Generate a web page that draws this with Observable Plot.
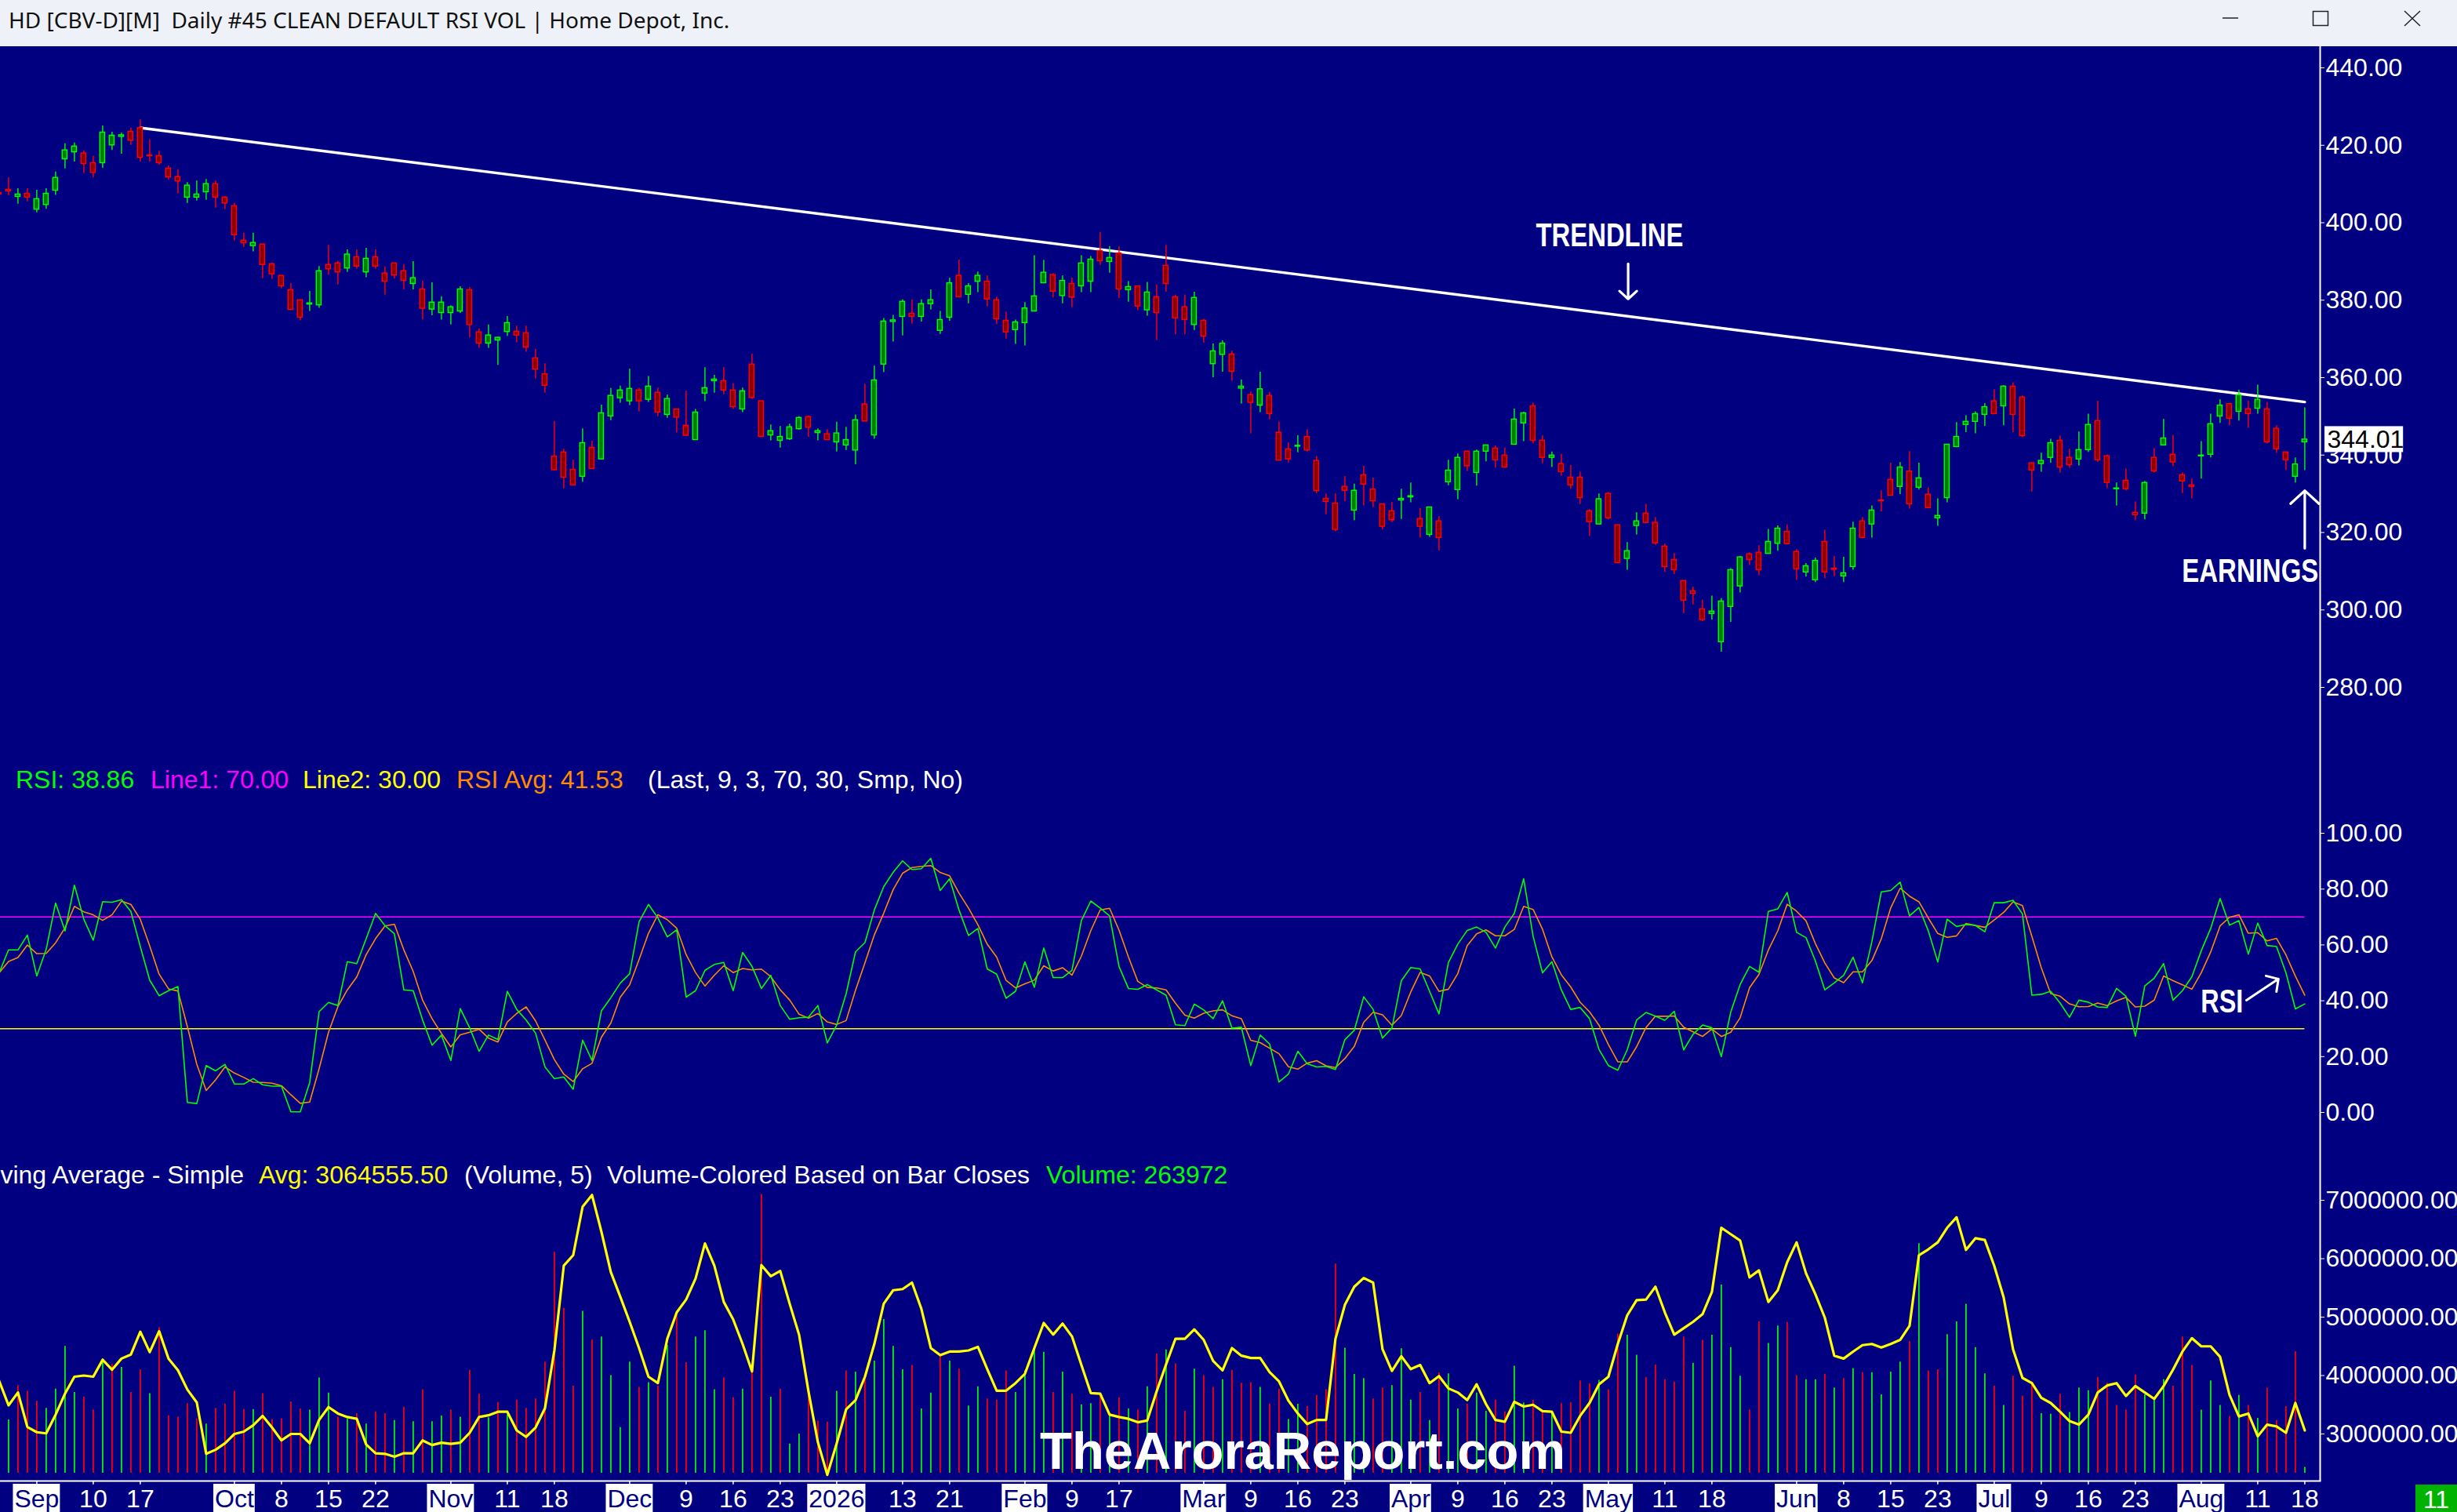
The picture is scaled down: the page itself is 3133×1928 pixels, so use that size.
<!DOCTYPE html>
<html>
<head>
<meta charset="utf-8">
<script src="https://cdn.jsdelivr.net/npm/d3@7"></script>
<script src="https://cdn.jsdelivr.net/npm/@observablehq/plot@0.6"></script>
<style>
  html, body { margin:0; padding:0; background:#000080; }
  #root { position:relative; width:3133px; height:1928px; overflow:hidden; background:#000080; font-family:"Liberation Sans", Arial, sans-serif; }
  #titlebar { position:absolute; left:0; top:0; width:3133px; height:59px; background:#eef2f8; }
  #title { position:absolute; left:11px; top:6px; font-family:"Noto Sans","Open Sans",sans-serif; font-size:28px; line-height:38px; color:#111; white-space:pre; }
  .panel { position:absolute; left:0; }
  .panel svg { display:block; overflow:hidden; }
  .leg { position:absolute; font-size:32px; line-height:36px; white-space:pre; z-index:5; }
  #wm { position:absolute; left:1326px; top:1816px; font-weight:bold; font-size:67px; line-height:67px; color:#fff; white-space:pre; z-index:6; }
  #tf { position:absolute; left:3080px; top:1893px; width:53px; height:35px; background:#00b300; color:#fff; font-size:32px; line-height:38px; text-align:center; z-index:6; }
</style>
</head>
<body>
<div id="root">
  <div id="titlebar">
    <div id="title">HD [CBV-D][M]  Daily #45 CLEAN DEFAULT RSI VOL | Home Depot, Inc.</div>
    <svg style="position:absolute;left:2820px;top:0" width="300" height="59">
      <line x1="14" y1="23" x2="34" y2="23" stroke="#222" stroke-width="1.5"/>
      <rect x="129.5" y="14.5" width="19" height="18" fill="none" stroke="#222" stroke-width="1.5"/>
      <line x1="246" y1="14" x2="266" y2="33" stroke="#222" stroke-width="1.5"/>
      <line x1="266" y1="14" x2="246" y2="33" stroke="#222" stroke-width="1.5"/>
    </svg>
  </div>
  <div id="pricePanel" class="panel" style="top:59px"></div>
  <div id="rsiPanel" class="panel" style="top:1020px"></div>
  <div id="volPanel" class="panel" style="top:1480px"></div>
  <div id="datePanel" class="panel" style="top:1887px"></div>

  <div class="leg" style="top:976px;left:20px;color:#00ff00">RSI: 38.86</div>
  <div class="leg" style="top:976px;left:192px;color:#ff00ff">Line1: 70.00</div>
  <div class="leg" style="top:976px;left:386px;color:#ffff00">Line2: 30.00</div>
  <div class="leg" style="top:976px;left:582px;color:#ff8c00">RSI Avg: 41.53</div>
  <div class="leg" style="top:976px;left:826px;color:#ffffff">(Last, 9, 3, 70, 30, Smp, No)</div>

  <div class="leg" style="top:1480px;left:-44px;color:#ffffff">Moving Average - Simple</div>
  <div class="leg" style="top:1480px;left:330px;color:#ffff00">Avg: 3064555.50</div>
  <div class="leg" style="top:1480px;left:592px;color:#ffffff">(Volume, 5)</div>
  <div class="leg" style="top:1480px;left:774px;color:#ffffff">Volume-Colored Based on Bar Closes</div>
  <div class="leg" style="top:1480px;left:1334px;color:#00ff00">Volume: 263972</div>

  <div id="wm">TheAroraReport.com</div>
  <div id="tf">11</div>
</div>
<script>
// ---------------- DATA (trading-day index of first bar = -4; Sep 2 2025 = 0) ----------------
const FIRST_INDEX = -4;

const open = [
407.7,408.5,406.7,407.5,403.4,404.6,408.3,416.4,418.2,417.9,
415.4,415.4,420.0,422.2,423.5,424.5,417.4,417.2,414.0,411.8,
406.5,406.5,407.9,410.0,406.5,404.3,395.4,394.0,394.4,389.3,
386.3,382.6,380.0,378.9,378.7,389.1,389.5,388.2,391.1,387.2,
391.1,386.9,389.5,387.5,384.2,382.8,377.6,376.7,376.7,377.1,
382.6,371.7,368.8,369.6,371.8,371.9,371.5,365.0,360.9,339.6,
340.7,336.2,334.4,341.9,338.9,350.0,354.7,353.9,356.7,354.3,
356.1,350.4,351.8,347.6,343.9,355.9,359.1,359.1,356.7,351.8,
363.4,353.9,345.1,343.7,344.1,346.7,349.8,345.7,345.4,343.3,
342.5,341.2,353.1,345.1,363.4,374.4,375.7,376.5,375.7,379.0,
372.1,375.5,386.3,381.4,384.8,384.8,380.0,374.7,372.3,374.1,
377.1,384.4,386.5,381.1,384.2,383.6,384.8,392.7,389.9,392.1,
382.6,383.6,377.4,380.8,388.9,380.8,378.2,373.6,374.7,363.5,
365.9,366.0,357.2,355.5,352.8,355.3,345.8,341.5,342.2,344.7,
338.5,328.7,327.5,331.8,325.7,334.8,331.1,327.3,325.5,328.3,
329.1,323.5,319.4,322.9,333.0,331.0,340.9,335.4,340.9,341.7,
339.9,342.7,348.2,352.6,343.7,339.3,337.7,334.2,334.2,325.5,
322.1,330.0,321.9,313.2,321.7,324.9,322.5,316.4,312.9,307.5,
304.8,300.2,299.0,291.7,300.8,306.1,314.4,314.8,314.5,317.1,
320.2,315.0,309.7,307.7,317.6,310.7,308.7,311.1,322.9,322.1,
328.3,333.6,331.8,335.8,331.6,329.8,323.7,328.9,342.1,347.8,
348.6,350.4,353.9,352.6,357.7,354.9,337.9,337.7,339.3,343.7,
339.3,338.9,341.3,348.8,339.7,331.2,333.4,325.1,324.9,339.3,
342.5,340.1,334.8,332.2,339.7,340.1,350.0,353.2,351.2,351.8,
352.0,351.8,346.8,340.7,334.4,343.3];

const high = [
408.2,411.6,408.8,408.8,408.4,408.8,413.1,420.4,420.6,418.6,
417.2,425.0,423.4,423.2,424.4,426.6,421.4,418.5,414.7,413.7,
410.4,410.8,411.2,410.8,406.8,405.0,397.3,397.3,394.4,389.6,
386.3,384.3,380.0,382.3,388.7,394.2,390.1,393.0,393.0,393.4,
393.0,388.6,389.5,389.2,390.0,384.9,384.5,380.9,378.6,383.5,
383.3,372.6,373.6,370.5,375.8,373.3,373.3,367.3,363.6,348.7,
341.5,338.7,346.8,343.6,352.9,357.2,357.8,362.2,357.3,360.3,
357.3,355.5,351.8,356.5,351.8,362.6,360.6,362.6,358.5,357.3,
366.1,353.9,347.8,347.4,348.0,349.9,350.2,346.8,346.6,348.5,
347.2,350.4,358.3,363.0,375.3,376.1,380.1,380.1,380.1,382.7,
377.1,385.7,390.4,384.3,387.3,386.3,380.8,376.9,374.9,379.4,
391.5,390.3,386.9,386.3,385.7,391.5,391.3,397.5,393.8,393.8,
384.8,383.6,384.6,384.0,394.2,381.3,381.3,382.1,375.1,368.7,
369.5,366.9,359.4,356.3,361.4,356.2,348.5,343.2,345.0,346.6,
339.7,330.0,330.0,334.5,332.5,337.1,334.1,327.3,327.8,331.2,
332.8,326.2,326.5,324.1,338.7,340.3,340.9,341.3,342.5,342.4,
341.8,351.9,351.1,353.4,345.0,340.8,340.2,337.3,335.6,325.9,
330.0,330.4,321.9,317.4,325.1,327.3,323.9,317.0,314.6,307.5,
305.9,302.6,303.6,303.0,310.7,313.8,314.8,316.6,320.8,321.7,
321.9,315.6,312.0,313.4,320.6,313.8,313.6,322.7,323.9,326.9,
330.8,337.9,338.1,340.9,337.9,331.6,328.7,342.7,348.4,350.2,
351.2,353.3,356.9,357.9,358.7,355.3,337.9,340.5,344.1,344.9,
341.5,346.0,350.6,353.9,340.1,332.8,336.4,327.9,333.2,341.7,
349.2,345.1,335.4,333.8,343.5,350.6,354.3,353.2,356.7,353.9,
358.1,353.6,347.6,340.7,339.3,352.2];

const low = [
406.8,407.0,404.8,405.4,402.6,403.5,407.1,413.9,415.7,412.7,
411.6,414.1,418.7,417.7,420.0,415.7,415.7,414.9,411.1,407.5,
405.0,405.6,405.8,403.8,403.4,395.3,393.6,392.5,385.6,385.4,
383.0,377.5,374.7,377.1,377.9,386.5,384.0,387.2,388.0,385.8,
388.0,381.3,385.5,382.7,382.7,374.9,376.0,374.9,373.6,376.6,
370.3,367.6,367.6,363.2,370.7,369.0,366.6,359.7,356.0,335.9,
331.3,332.2,333.0,336.4,338.9,348.9,353.4,352.8,351.2,353.6,
349.9,349.5,345.7,345.0,343.9,353.8,356.0,355.6,351.8,351.0,
354.4,344.7,343.7,341.8,343.8,346.5,344.6,343.7,343.9,340.8,
341.2,337.5,348.7,344.1,361.3,369.2,370.8,373.8,374.4,377.5,
371.2,374.6,380.6,379.1,382.0,378.3,373.7,370.0,368.6,368.2,
377.0,384.4,380.6,379.1,378.1,382.0,382.0,389.0,387.0,380.5,
379.5,377.3,375.9,369.6,382.1,371.1,371.1,372.2,368.9,360.0,
361.4,359.1,353.2,345.5,351.0,349.1,338.6,338.0,340.6,340.8,
330.1,324.6,320.2,328.0,323.1,326.9,326.5,320.7,322.6,323.4,
327.7,318.6,318.8,315.3,332.1,328.5,335.8,332.0,338.3,336.6,
336.6,342.7,343.5,342.9,337.8,336.8,334.6,331.2,327.3,319.0,
322.1,323.3,312.1,310.3,319.4,322.5,316.7,309.7,309.1,299.1,
301.3,297.0,297.4,289.1,296.8,304.4,311.5,308.9,314.5,315.2,
317.0,307.7,308.5,307.1,308.1,308.6,307.1,310.3,318.6,318.6,
325.3,329.5,329.8,326.1,331.0,326.3,321.6,327.7,341.9,345.8,
345.5,347.4,350.6,347.6,345.8,344.5,330.5,335.6,337.9,335.4,
336.6,337.2,340.7,338.1,331.4,326.9,330.8,323.1,323.3,335.4,
342.5,337.0,330.1,328.7,333.8,339.3,348.2,347.6,348.8,347.0,
350.6,342.9,340.5,336.0,332.8,336.0];

const close = [
407.3,408.1,407.3,406.5,406.1,407.5,411.6,418.7,419.7,415.2,
412.9,423.3,422.5,422.6,421.2,416.8,417.2,415.4,411.7,410.7,
409.6,407.3,410.0,406.5,405.0,396.8,394.7,394.8,389.1,386.7,
383.6,377.5,375.5,379.2,387.5,388.0,387.2,391.8,388.7,390.7,
388.7,384.8,386.4,385.0,385.7,377.8,379.4,379.4,378.2,382.8,
373.6,368.8,370.9,370.3,374.1,370.9,367.8,362.1,357.9,336.1,
334.2,332.2,343.1,336.4,350.8,355.3,356.7,357.1,353.9,357.7,
351.0,354.5,349.7,345.0,351.0,357.3,359.5,356.7,352.4,356.5,
354.8,344.7,346.2,344.7,347.2,349.6,347.1,346.2,343.9,345.6,
343.9,349.0,348.7,359.3,374.5,374.8,379.6,375.7,379.0,380.0,
374.9,384.4,380.8,383.6,386.3,380.2,375.1,371.7,374.3,377.9,
381.0,387.1,382.2,385.0,380.7,389.5,390.5,390.1,390.9,382.8,
383.4,378.4,382.0,376.7,384.2,375.3,374.9,380.6,370.6,366.8,
368.8,361.5,357.7,353.5,357.0,350.6,338.6,338.9,342.4,341.2,
330.7,327.9,320.7,330.8,330.8,332.4,328.1,321.5,323.2,328.7,
329.4,321.5,326.5,318.6,336.0,339.3,337.1,340.9,342.5,338.7,
336.8,349.2,350.8,343.7,339.3,339.9,335.6,332.2,328.9,322.7,
328.6,323.7,312.1,315.2,322.9,322.5,317.2,311.1,310.3,302.4,
304.2,297.4,299.6,302.2,310.3,313.6,312.9,310.3,317.6,321.0,
317.0,310.5,311.3,312.7,309.7,310.4,309.5,321.0,318.6,325.7,
328.1,329.5,336.8,327.3,334.0,326.3,324.3,342.7,344.7,348.6,
350.6,352.4,350.6,357.7,350.4,344.9,336.0,338.5,343.1,336.8,
337.4,341.3,347.8,338.7,332.8,331.4,331.2,324.5,332.8,335.8,
344.3,338.1,333.2,331.8,339.9,348.0,352.8,349.4,355.5,350.6,
354.3,343.3,341.5,338.7,337.6,344.01];

// volume in millions of shares
const volume = [
3.40,3.24,3.83,3.73,3.56,3.44,3.77,4.50,3.71,3.63,
3.41,4.29,4.19,4.14,3.71,4.10,3.69,4.82,3.31,3.29,
3.52,3.26,3.17,3.44,3.51,3.73,3.42,3.42,3.69,3.25,
3.26,3.55,3.43,3.41,3.96,3.70,3.29,3.26,3.35,3.17,
3.38,3.35,3.23,3.46,3.21,3.76,3.21,3.31,3.41,3.29,
4.09,3.68,3.28,3.54,3.33,3.58,3.44,3.60,4.23,6.11,
5.15,3.82,5.10,4.61,4.66,4.00,3.11,4.23,3.80,3.88,
3.82,4.52,5.03,4.22,4.66,4.77,3.76,3.96,3.62,3.77,
4.09,7.10,3.63,3.77,2.83,3.00,3.73,3.22,3.20,3.73,
4.08,4.06,3.98,4.25,4.96,4.50,4.10,4.17,3.43,3.70,
4.33,4.25,4.11,3.48,3.81,3.60,3.58,4.08,3.71,4.08,
4.44,4.40,3.71,4.06,3.68,3.50,3.52,3.70,3.35,3.62,
3.43,3.41,3.81,4.37,4.44,4.20,3.39,4.11,4.00,3.80,
3.93,4.09,3.87,3.88,3.80,3.51,3.77,3.25,3.51,3.47,
3.66,3.76,5.91,4.47,4.02,3.95,3.60,3.79,3.83,4.46,
3.58,3.71,3.23,4.05,4.03,3.43,3.51,3.70,3.39,3.58,
3.38,4.16,3.53,3.58,3.40,3.35,3.52,3.54,3.91,3.86,
3.92,3.76,4.71,4.69,4.35,3.97,4.18,3.93,3.89,4.66,
4.21,4.60,4.69,5.55,4.48,3.99,3.41,4.92,4.55,4.85,
4.91,4.00,3.93,3.93,4.02,3.79,3.95,4.12,4.05,4.05,
3.67,4.06,4.23,4.58,6.26,4.08,4.10,4.70,4.92,5.22,
4.48,4.03,3.82,3.49,3.99,3.65,3.89,3.35,3.34,3.68,
3.37,3.79,3.74,3.97,3.87,3.49,3.41,4.01,3.67,3.62,
3.93,3.82,4.66,4.17,3.41,3.91,3.49,3.30,3.66,3.49,
3.27,3.79,3.23,3.47,4.41,2.43];

// volume bar colour, 10 bars per row: u = green (up close), d = red (down close)
const volumeDirRows = [
"duddduuuud","dududduddd","dduddddudd","ddduuududu","ddududuudu",
"ddududdddd","dduduuuudu","dudduuuddu","dduduudddu","duduuuuduu",
"duduuddduu","uududuudud","udududdudd","udddudduud","ddduuudduu",
"ududuuduud","duuddudddd","udduuddddd","uduuuudduu","dduudududu",
"uuududduuu","uududdduud","uuuddddduu","uddduuudud","uddddu"];

// 5-bar volume average line (millions)
const volumeAvg = [
3.91,3.49,3.71,3.12,3.03,3.01,3.33,3.69,3.98,4.00,
3.98,4.27,4.10,4.29,4.36,4.75,4.40,4.76,4.29,4.09,
3.76,3.54,2.66,2.73,2.84,3.00,3.04,3.15,3.31,3.11,
2.89,3.00,3.00,2.84,3.24,3.46,3.35,3.29,3.26,2.82,
2.67,2.66,2.61,2.67,2.67,2.89,2.81,2.85,2.83,2.85,
3.02,3.29,3.32,3.38,3.38,3.06,2.95,3.11,3.44,4.43,
5.88,6.06,6.89,7.09,6.46,5.77,5.35,4.92,4.47,3.98,
3.87,4.63,5.08,5.30,5.66,6.26,5.88,5.26,4.96,4.54,
4.07,5.89,5.70,5.79,5.23,4.70,3.73,2.86,2.30,2.84,
3.42,3.58,3.98,4.54,5.23,5.46,5.48,5.59,5.14,4.47,
4.35,4.41,4.41,4.43,4.49,4.11,3.74,3.74,3.87,4.03,
4.47,4.90,4.70,4.89,4.67,4.18,3.70,3.69,3.33,3.29,
3.26,3.20,3.23,3.73,4.19,4.63,4.63,4.79,4.61,4.25,
4.09,4.47,4.34,4.30,4.30,4.06,3.90,3.57,3.35,3.17,
3.24,3.24,4.63,5.21,5.52,5.67,5.59,4.45,4.08,4.33,
4.11,4.18,3.87,3.99,3.78,3.71,3.58,3.85,3.51,3.24,
3.21,3.55,3.47,3.50,3.39,3.38,3.04,3.02,3.31,3.53,
3.85,3.98,4.54,5.03,5.29,5.30,5.52,5.08,4.70,4.81,
4.92,5.05,5.43,6.53,6.42,6.31,5.68,5.80,5.26,5.46,
5.94,6.28,5.75,5.39,4.99,4.34,4.29,4.41,4.52,4.54,
4.48,4.54,4.61,4.85,6.06,6.16,6.28,6.53,6.71,6.15,
6.35,6.32,5.88,5.34,4.45,3.96,3.87,3.62,3.53,3.38,
3.22,3.16,3.33,3.71,3.83,3.87,3.65,3.82,3.71,3.60,
3.82,4.10,4.41,4.64,4.50,4.50,4.32,3.67,3.30,3.35,
2.96,3.16,3.13,3.02,3.53,3.06];

// RSI(9)
const rsi = [
50.0,58.2,58.2,63.5,48.9,58.4,75.0,65.0,81.4,69.2,
61.7,75.5,75.3,76.2,72.0,59.4,47.4,41.8,43.6,45.1,
3.6,3.2,16.8,14.9,17.2,10.2,10.2,12.1,9.9,9.4,
9.4,0.2,0.2,10.7,36.1,39.4,38.3,54.0,53.3,62.2,
71.3,66.9,64.0,43.9,43.6,33.1,24.1,27.7,18.6,37.2,
30.3,21.9,27.7,26.1,43.4,36.9,33.1,28.4,16.3,12.1,
12.7,8.3,25.9,18.6,36.4,41.1,46.3,49.7,68.3,74.5,
69.7,62.9,65.4,41.3,43.6,50.9,53.0,53.7,43.6,57.3,
52.3,44.4,49.1,38.3,33.4,33.9,34.1,38.3,24.9,31.3,
42.5,57.5,60.8,72.5,80.9,86.0,90.1,87.0,87.3,91.0,
79.5,83.7,72.5,63.4,65.9,51.4,49.5,40.9,43.4,53.9,
44.8,58.9,48.3,48.3,50.9,68.7,75.7,73.2,70.4,52.3,
44.4,44.1,45.8,43.9,42.0,31.4,31.1,38.8,36.7,33.6,
40.0,30.2,30.5,16.8,27.7,24.5,10.9,13.7,21.9,17.4,
16.3,16.5,15.4,26.1,29.4,41.4,36.9,26.6,30.3,47.2,
51.9,51.4,43.4,35.3,53.7,60.3,65.2,66.4,64.5,58.9,
66.4,71.3,83.7,63.1,50.0,54.0,43.9,36.9,37.6,33.6,
22.6,16.8,15.1,22.4,33.1,35.8,34.5,33.0,36.2,22.4,
28.0,31.3,30.3,20.0,35.9,45.8,52.3,50.2,72.0,72.9,
78.8,64.5,62.6,54.2,43.9,46.4,49.1,55.6,46.4,61.2,
79.0,79.5,82.5,70.4,73.4,65.0,53.9,69.2,66.6,67.3,
67.0,64.7,75.1,75.1,76.0,71.1,42.0,42.3,43.4,39.2,
34.1,40.2,39.5,37.8,37.6,44.4,41.6,27.3,45.3,48.1,
53.3,40.2,43.6,48.6,57.9,65.9,76.6,67.1,68.7,56.7,
67.8,59.8,59.4,50.0,37.1,38.86];

const priceTicks = [280, 300, 320, 340, 360, 380, 400, 420, 440];
const rsiTicks = [0, 20, 40, 60, 80, 100];
const volumeTicks = [3000000, 4000000, 5000000, 6000000, 7000000];
const rsiLevels = [{v: 70, c: "#ff00ff"}, {v: 30, c: "#ffff00"}];

const tickIndex = [0,6,11,21,26,31,36,44,50,55,63,69,74,79,85,92,97,105,110,115,124,129,134,139,146,151,156,161,167,173,178,187,192,197,202,208,213,218,223,230,236,241];
const tickLabel = ["Sep","10","17","Oct","8","15","22","Nov","11","18","Dec","9","16","23","2026","13","21","Feb","9","17","Mar","9","16","23","Apr","9","16","23","May","11","18","Jun","8","15","23","Jul","9","16","23","Aug","11","18"];

const trendline = [{i: 11, p: 424.5}, {i: 241, p: 353.7}];
const priceNotes = [{i: 167.13, p: 396.7, t: "TRENDLINE"}, {i: 235.2, p: 310.0, t: "EARNINGS"}];
const priceArrows = [{i1: 169.1, p1: 389.4, i2: 169.1, p2: 380.3}, {i1: 241.0, p1: 315.9, i2: 241.0, p2: 330.8}];
const rsiNotes = [{i: 232.2, v: 39.6, t: "RSI"}];
const rsiArrows = [{i1: 234.8, v1: 40.2, i2: 238.2, v2: 47.8}];

// ---------------- BUILD ----------------
const dirString = volumeDirRows.join("");
const N = close.length;
const lens = {open: open.length, high: high.length, low: low.length, close: close.length, volume: volume.length, volumeAvg: volumeAvg.length, rsi: rsi.length, dir: dirString.length};
if (Object.values(lens).some(n => n !== 246)) throw new Error("length mismatch " + JSON.stringify(lens));

const bars = d3.range(N).map(k => ({
  i: k + FIRST_INDEX, o: open[k], h: high[k], l: low[k], c: close[k],
  v: volume[k] * 1e6, ma: volumeAvg[k] * 1e6, up: dirString[k] === "u", rsi: rsi[k]
}));
const last = bars[N - 1];

const W = 3133, AXIS_X = 2958, BAR_STEP = 12, FIRST_X = 46.4;
const FONT = '"Liberation Sans", Arial, sans-serif';
const UP_LINE = "#00ff00", UP_FILL = "#008000", DN_LINE = "#ff0000", DN_FILL = "#8b0000";
const xScale = {domain: [-FIRST_X / BAR_STEP, (AXIS_X - FIRST_X) / BAR_STEP], range: [0, AXIS_X], axis: null};
const xMax = xScale.domain[1];
const common = {
  width: W, marginLeft: 0, marginRight: W - AXIS_X, marginTop: 0, marginBottom: 0,
  style: {background: "transparent", color: "white", fontFamily: FONT, fontSize: "32px", overflow: "hidden"},
  x: xScale, color: {type: "identity"}
};
const axisOpts = {anchor: "right", tickSize: 5, tickPadding: 2, stroke: "white", fill: "white", fontSize: 32, label: null, tickFormat: d => d.toFixed(2)};
const isUp = d => d.c >= d.o;
const half = 0.26;

const squeeze = (svg, lengths) => {
  svg.querySelectorAll("text").forEach(t => {
    const w = lengths[t.textContent];
    if (w) { t.setAttribute("textLength", w); t.setAttribute("lengthAdjust", "spacingAndGlyphs"); }
  });
};

// price
const pricePlot = Plot.plot({
  ...common, height: 961,
  y: {domain: [280, 440], range: [817, 27]},
  marks: [
    Plot.frame({anchor: "right", stroke: "white", strokeWidth: 2}),
    Plot.axisY({...axisOpts, ticks: priceTicks}),
    Plot.line(trendline, {x: "i", y: "p", stroke: "white", strokeWidth: 3.4}),
    Plot.ruleX(bars, {x: "i", y1: "l", y2: "h", stroke: d => isUp(d) ? UP_LINE : DN_LINE, strokeWidth: 1.4}),
    Plot.rect(bars, {x1: d => d.i - half, x2: d => d.i + half, y1: "o", y2: "c",
      fill: d => isUp(d) ? UP_FILL : DN_FILL, stroke: d => isUp(d) ? UP_LINE : DN_LINE, strokeWidth: 1.4}),
    Plot.text(priceNotes, {x: "i", y: "p", text: "t", fill: "white", fontSize: 42, fontWeight: "bold"}),
    Plot.arrow(priceArrows, {x1: "i1", y1: "p1", x2: "i2", y2: "p2", stroke: "white", strokeWidth: 3.2, headLength: 18, headAngle: 95}),
    Plot.rect([last], {x1: () => xMax + 0.5, x2: () => xMax + 8.85, y1: d => d.c - 3.35, y2: d => d.c + 3.35, fill: "white"}),
    Plot.text([last], {x: () => xMax + 0.5, y: "c", text: d => d.c.toFixed(2), textAnchor: "start", dx: 3, fill: "black", fontSize: 32})
  ]
});
squeeze(pricePlot, {TRENDLINE: 188, EARNINGS: 174});
document.getElementById("pricePanel").append(pricePlot);

// RSI
const rsiPlot = Plot.plot({
  ...common, height: 460,
  y: {domain: [0, 100], range: [398, 42]},
  marks: [
    Plot.frame({anchor: "right", stroke: "white", strokeWidth: 2}),
    Plot.axisY({...axisOpts, ticks: rsiTicks}),
    Plot.ruleY(rsiLevels, {y: "v", x1: () => bars[0].i, x2: () => last.i, stroke: "c", strokeWidth: 1.6}),
    Plot.lineY(bars, Plot.windowY({k: 3, anchor: "end"}, {x: "i", y: "rsi", stroke: "#ff8c00", strokeWidth: 1.6})),
    Plot.lineY(bars, {x: "i", y: "rsi", stroke: "#00ff00", strokeWidth: 1.6}),
    Plot.text(rsiNotes, {x: "i", y: "v", text: "t", fill: "white", fontSize: 42, fontWeight: "bold"}),
    Plot.arrow(rsiArrows, {x1: "i1", y1: "v1", x2: "i2", y2: "v2", stroke: "white", strokeWidth: 3, headLength: 14, headAngle: 95})
  ]
});
squeeze(rsiPlot, {RSI: 54});
document.getElementById("rsiPanel").append(rsiPlot);

// Volume
const VOL_FLOOR = 2330000;
const volPlot = Plot.plot({
  ...common, height: 408,
  y: {domain: [3000000, 7000000], range: [348, 50]},
  marks: [
    Plot.frame({anchor: "right", stroke: "white", strokeWidth: 2}),
    Plot.axisY({...axisOpts, ticks: volumeTicks}),
    Plot.ruleX(bars, {x: "i", y1: () => VOL_FLOOR, y2: "v", stroke: d => d.up ? UP_LINE : DN_LINE, strokeWidth: 1.7}),
    Plot.line(bars, {x: "i", y: "ma", stroke: "#ffff00", strokeWidth: 3.2})
  ]
});
document.getElementById("volPanel").append(volPlot);

// Date axis
const ctx = document.createElement("canvas").getContext("2d");
ctx.font = "32px " + FONT;
const ticks = tickIndex.map((i, k) => ({i, l: tickLabel[k], boxed: isNaN(+tickLabel[k]) || tickLabel[k].length === 4}));
ticks.forEach(d => d.hw = (ctx.measureText(d.l).width / 2 + 1.5) / BAR_STEP);
const datePlot = Plot.plot({
  ...common, height: 41, marginTop: 1,
  y: {domain: [0, 1], range: [41, 1], axis: null},
  marks: [
    Plot.frame({anchor: "top", stroke: "white", strokeWidth: 2}),
    Plot.ruleX(ticks, {x: "i", y1: () => 1, y2: () => 0.88, stroke: "white", strokeWidth: 1.5}),
    Plot.rect(ticks.filter(d => d.boxed), {x1: d => d.i - d.hw, x2: d => d.i + d.hw, y1: () => 0, y2: () => 0.9, fill: "white"}),
    Plot.text(ticks, {x: "i", y: () => 0.42, text: "l", fill: d => d.boxed ? "#000080" : "white", fontSize: 32})
  ]
});
document.getElementById("datePanel").append(datePlot);
</script>
</body>
</html>
